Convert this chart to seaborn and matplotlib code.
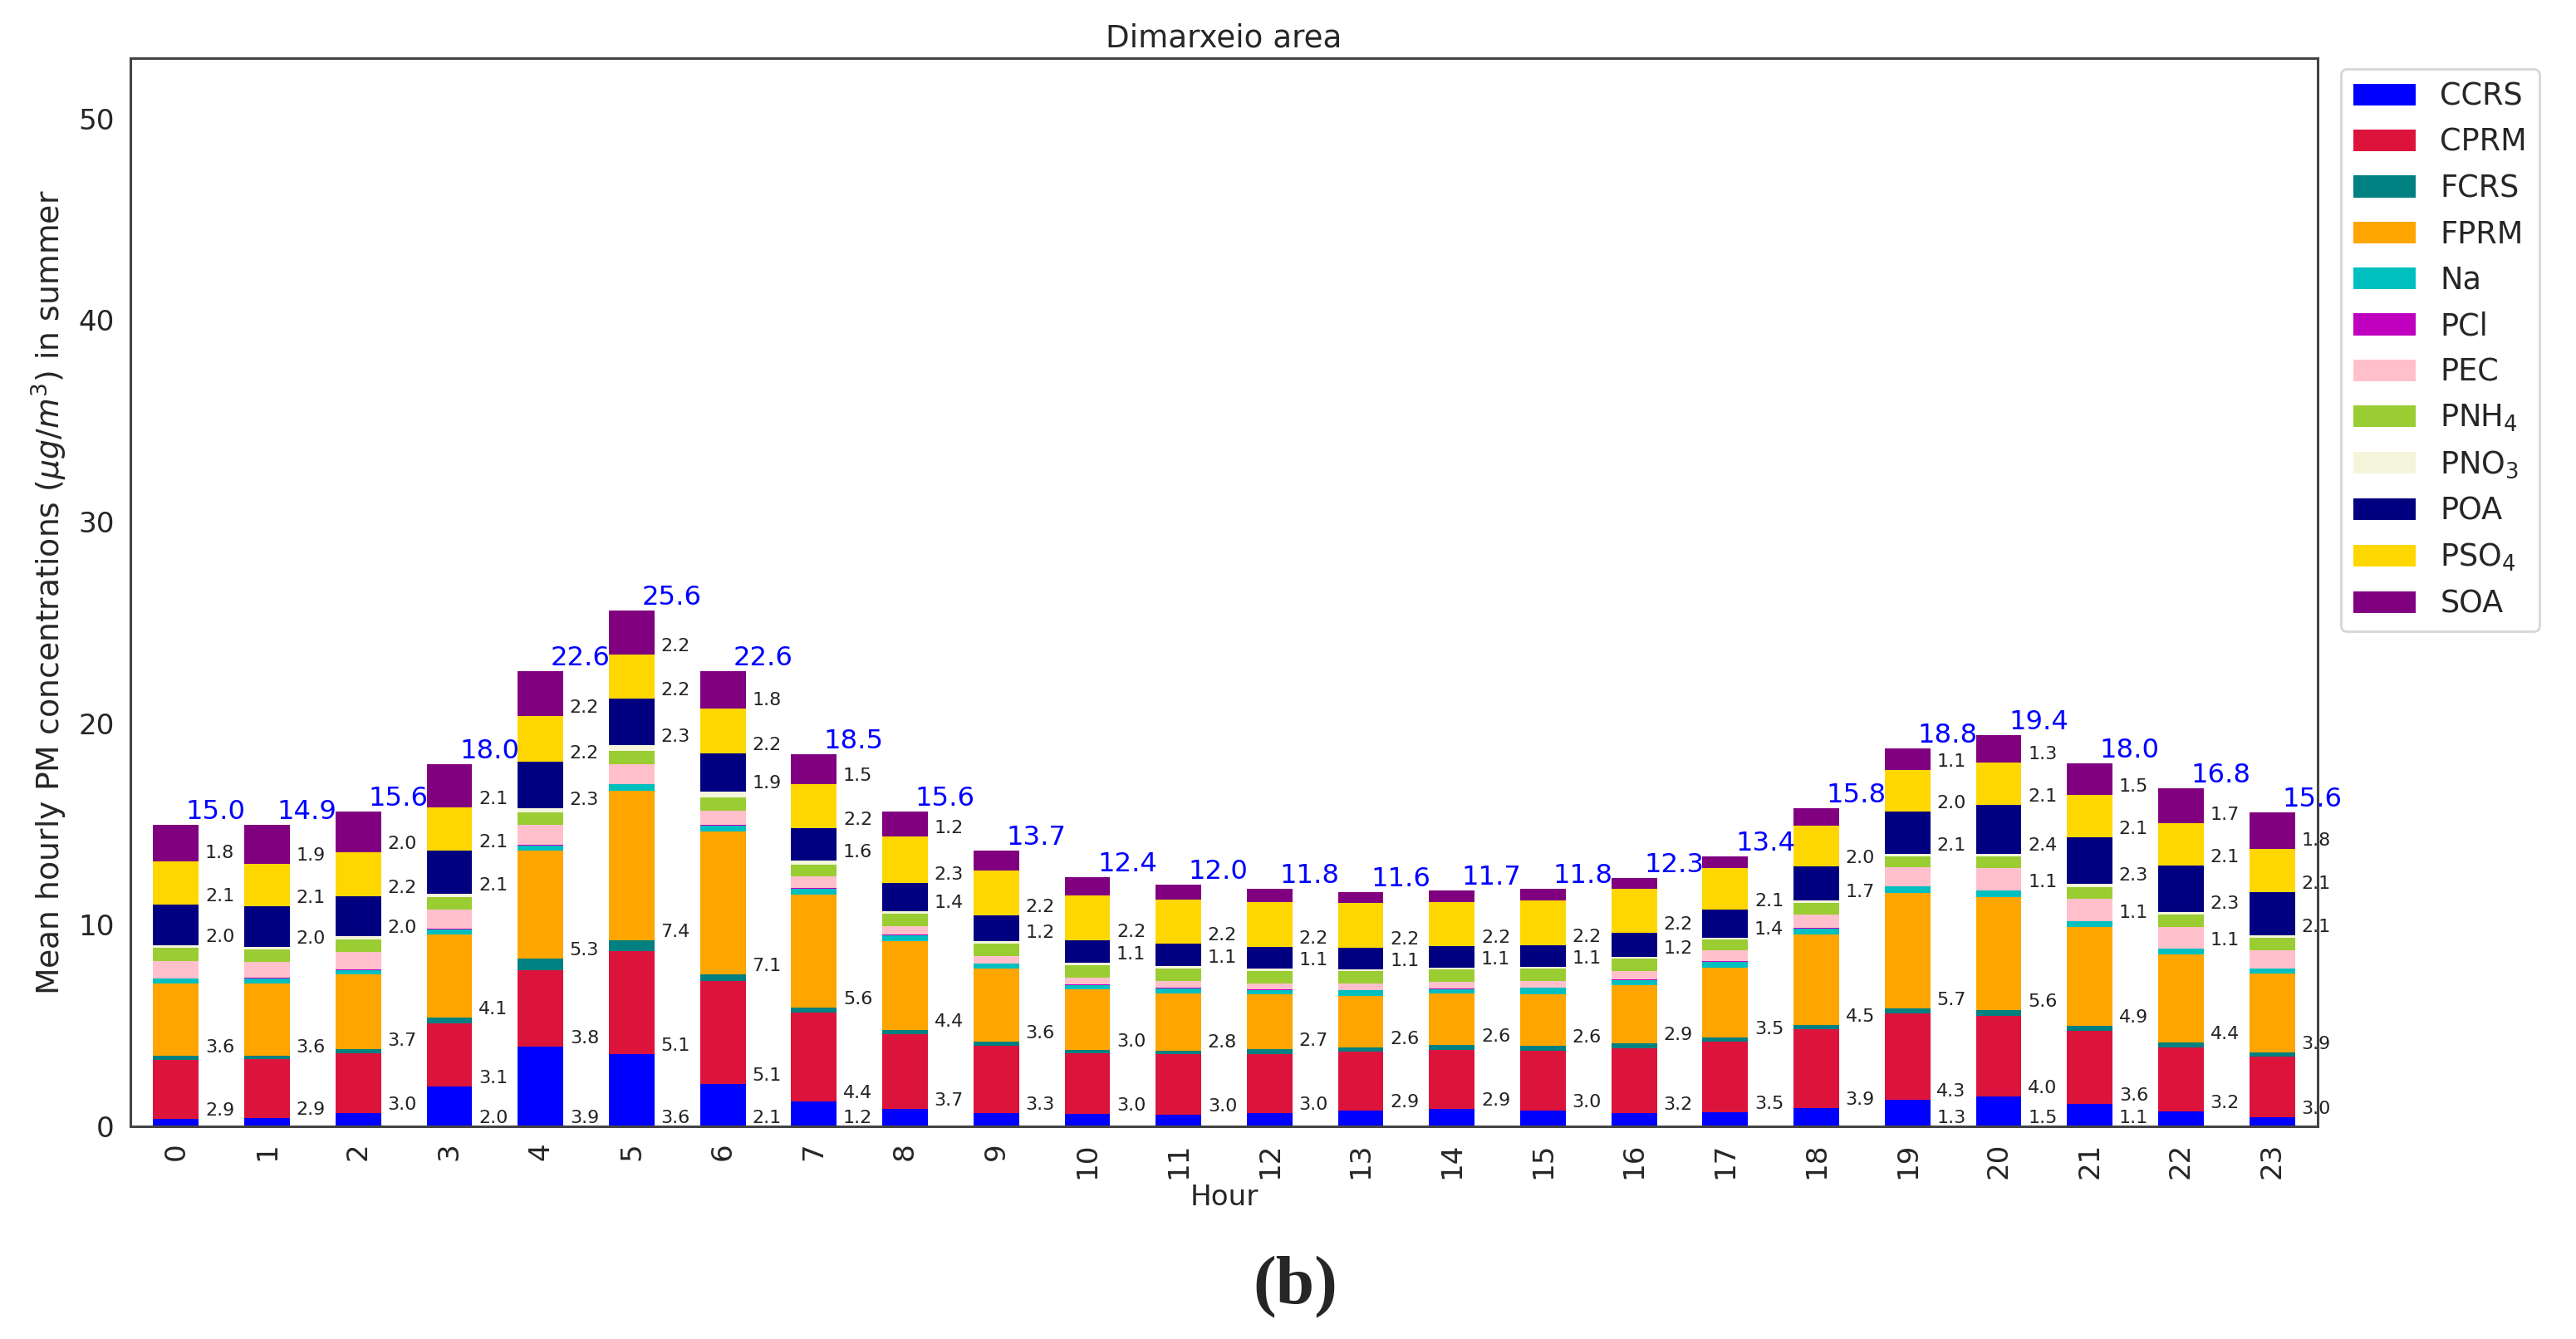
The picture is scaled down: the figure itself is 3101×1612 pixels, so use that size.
import numpy as np
import pandas as pd
import seaborn as sns
import matplotlib
matplotlib.use("Agg")
import matplotlib.pyplot as plt
from matplotlib.patches import Patch

hours = list(range(24))
components = ["CCRS", "CPRM", "FCRS", "FPRM", "Na", "PCl", "PEC", "PNH4", "PNO3", "POA", "PSO4", "SOA"]
legend_labels = ["CCRS", "CPRM", "FCRS", "FPRM", "Na", "PCl", "PEC", "PNH$_4$", "PNO$_3$", "POA", "PSO$_4$", "SOA"]
colors = ["#0000FF", "#DC143C", "#008080", "#FFA500", "#00BFBF", "#BF00BF",
          "#FFC0CB", "#9ACD32", "#F5F5DC", "#000080", "#FFD700", "#800080"]

CCRS = [0.39, 0.42, 0.68, 1.98, 3.94, 3.6, 2.1, 1.24, 0.88, 0.64, 0.61, 0.59, 0.64, 0.77, 0.88, 0.77, 0.68, 0.72, 0.92, 1.3, 1.48, 1.13, 0.73, 0.46]
CPRM = [2.92, 2.9, 2.96, 3.12, 3.79, 5.1, 5.1, 4.4, 3.7, 3.34, 3.0, 3.0, 2.96, 2.94, 2.9, 2.98, 3.2, 3.48, 3.9, 4.3, 4.02, 3.63, 3.2, 3.02]
FCRS = [0.19, 0.19, 0.2, 0.3, 0.6, 0.55, 0.35, 0.27, 0.22, 0.22, 0.19, 0.18, 0.22, 0.2, 0.24, 0.24, 0.24, 0.22, 0.22, 0.27, 0.28, 0.22, 0.22, 0.18]
FPRM = [3.58, 3.56, 3.7, 4.14, 5.34, 7.4, 7.1, 5.6, 4.4, 3.62, 2.98, 2.84, 2.72, 2.58, 2.58, 2.58, 2.88, 3.47, 4.46, 5.7, 5.6, 4.92, 4.4, 3.92]
Na = [0.24, 0.27, 0.22, 0.24, 0.27, 0.33, 0.27, 0.28, 0.28, 0.24, 0.22, 0.25, 0.22, 0.25, 0.22, 0.3, 0.27, 0.28, 0.32, 0.33, 0.31, 0.28, 0.27, 0.24]
PCl = [0.02, 0.02, 0.02, 0.02, 0.02, 0.02, 0.02, 0.02, 0.02, 0.02, 0.04, 0.02, 0.03, 0.02, 0.03, 0.02, 0.02, 0.02, 0.02, 0.02, 0.02, 0.02, 0.02, 0.02]
PEC = [0.88, 0.82, 0.86, 0.95, 0.99, 0.97, 0.74, 0.58, 0.42, 0.36, 0.32, 0.35, 0.3, 0.33, 0.33, 0.32, 0.43, 0.54, 0.68, 0.93, 1.1, 1.1, 1.06, 0.9]
PNH4 = [0.64, 0.61, 0.64, 0.64, 0.64, 0.64, 0.64, 0.61, 0.64, 0.62, 0.64, 0.62, 0.62, 0.61, 0.6, 0.62, 0.6, 0.53, 0.55, 0.55, 0.58, 0.58, 0.62, 0.6]
PNO3 = [0.13, 0.13, 0.14, 0.15, 0.18, 0.3, 0.28, 0.18, 0.13, 0.15, 0.11, 0.11, 0.1, 0.09, 0.08, 0.08, 0.1, 0.1, 0.12, 0.12, 0.13, 0.14, 0.13, 0.13]
POA = [2.03, 2.0, 2.0, 2.14, 2.34, 2.3, 1.91, 1.6, 1.4, 1.24, 1.12, 1.1, 1.1, 1.08, 1.08, 1.08, 1.2, 1.4, 1.72, 2.12, 2.42, 2.32, 2.3, 2.14]
PSO4 = [2.11, 2.12, 2.18, 2.14, 2.24, 2.2, 2.22, 2.2, 2.3, 2.24, 2.24, 2.2, 2.2, 2.2, 2.18, 2.2, 2.16, 2.06, 2.02, 2.04, 2.12, 2.12, 2.1, 2.14]
SOA = [1.84, 1.9, 2.02, 2.14, 2.24, 2.2, 1.84, 1.5, 1.24, 0.98, 0.9, 0.74, 0.66, 0.55, 0.58, 0.58, 0.55, 0.58, 0.84, 1.09, 1.34, 1.54, 1.72, 1.84]

values = np.array([CCRS, CPRM, FCRS, FPRM, Na, PCl, PEC, PNH4, PNO3, POA, PSO4, SOA])
cum = np.cumsum(values, axis=0)
bottoms = cum - values
totals = cum[-1]

sns.set_style("white")
plt.rcParams["font.family"] = ["DejaVu Sans"]

W, H, DPI = 3101, 1612, 200
fig = plt.figure(figsize=(W / DPI, H / DPI), dpi=DPI)
ax = fig.add_axes([157 / W, 1 - 1356 / H, (2790 - 157) / W, (1356 - 70) / H])

bar_w = 0.5
# Stacked bars via overlaid cumulative bars (tallest first)
for k in range(len(components) - 1, -1, -1):
    df = pd.DataFrame({"Hour": hours, "val": cum[k]})
    sns.barplot(data=df, x="Hour", y="val", color=colors[k], saturation=1,
                width=bar_w, linewidth=0, errorbar=None, ax=ax)

# Component labels (values >= 1)
for k in range(len(components)):
    for i in hours:
        v = values[k, i]
        if v >= 1.0:
            ax.text(i + bar_w / 2 + 0.07, bottoms[k, i], f"{v:.1f}", ha="left", va="bottom",
                    fontsize=8.0, color="#222222")

# Totals
for i in hours:
    ax.text(i + 0.11, totals[i], f"{totals[i]:.1f}", ha="left", va="bottom",
            fontsize=11.6, color="#0000FF")

ax.set_xlim(-0.5, 23.5)
ax.set_ylim(0, 53)
ax.set_yticks([0, 10, 20, 30, 40, 50])
ax.tick_params(axis="both", labelsize=12.3, length=3.5, width=1.0, color="#555555")
ax.tick_params(axis="x", rotation=90)
for s in ax.spines.values():
    s.set_color("#444444")
    s.set_linewidth(1.1)
ax.set_xlabel("Hour", fontsize=12.3, labelpad=2)
ax.set_ylabel("Mean hourly PM concentrations ($\\mu g/m^3$) in summer", fontsize=13.6, labelpad=4)
ax.set_title("Dimarxeio area", fontsize=13.4, pad=5)

handles = [Patch(facecolor=c, edgecolor="none") for c in colors]
leg = fig.legend(handles, legend_labels, loc="upper left",
                 bbox_to_anchor=(2818 / W, 1 - 83 / H), bbox_transform=fig.transFigure,
                 fontsize=13.2, handlelength=2.05, handleheight=0.73, handletextpad=0.8,
                 labelspacing=0.5, borderaxespad=0, frameon=True, fancybox=True)
leg.get_frame().set_edgecolor("#CCCCCC")

fig.text(0.503, 1 - 1550 / H, "(b)", ha="center", va="center", fontsize=30,
         fontweight="bold", family=["Liberation Serif", "DejaVu Serif"])

fig.savefig("out.png", dpi=DPI)
